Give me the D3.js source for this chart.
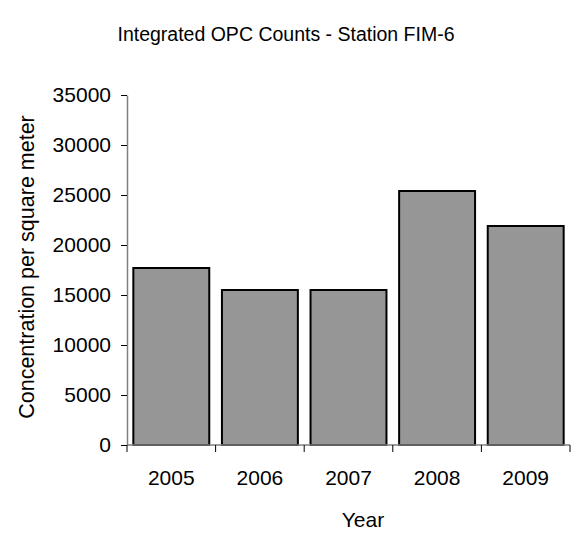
<!DOCTYPE html>
<html>
<head>
<meta charset="utf-8">
<script src="https://cdn.jsdelivr.net/npm/d3@7"></script>
<style>
  html, body { margin: 0; padding: 0; background: #fff; }
  text { font-family: "Liberation Sans", Arial, sans-serif; fill: #000; }
</style>
</head>
<body>
<svg id="chart" width="571" height="534"></svg>
<script>
const years = ["2005", "2006", "2007", "2008", "2009"];
const concentration = [17700, 15500, 15500, 25400, 21900];
const yTicks = [0, 5000, 10000, 15000, 20000, 25000, 30000, 35000];
const titleText = "Integrated OPC Counts - Station FIM-6";
const xTitle = "Year";
const yTitle = "Concentration per square meter";

(function () {
const svg = d3.select("#chart");
const mLeft = 127, mRight = 570, mTop = 95, mBottom = 445;
const fs = "21px";

const x = d3.scaleBand().domain(years).range([mLeft, mRight]).paddingInner(0.143).paddingOuter(0.0715);
const y = d3.scaleLinear().domain([0, 35000]).range([mBottom, mTop]);

// bars
svg.append("g").selectAll("rect").data(years).join("rect")
  .attr("x", d => x(d))
  .attr("y", (d, i) => y(concentration[i]))
  .attr("width", x.bandwidth())
  .attr("height", (d, i) => y(0) - y(concentration[i]))
  .attr("fill", "#969696")
  .attr("stroke", "#000")
  .attr("stroke-width", 2);

// y axis
const yAxis = svg.append("g").attr("transform", `translate(${mLeft},0)`)
  .call(d3.axisLeft(y).tickValues(yTicks).tickSize(6).tickSizeOuter(0).tickPadding(10).tickFormat(d3.format("d")));
yAxis.select(".domain").attr("stroke", "#808080").attr("stroke-width", 1.5);
yAxis.selectAll(".tick line").attr("stroke", "#000");
yAxis.selectAll("text").style("font-size", fs).style("font-family", "'Liberation Sans', Arial, sans-serif");

// x axis
const xBound = d3.scaleLinear().domain([0, years.length]).range([mLeft, mRight]);
const xAxisG = svg.append("g");
xAxisG.append("line").attr("x1", mLeft).attr("x2", mRight).attr("y1", mBottom).attr("y2", mBottom)
  .attr("stroke", "#808080").attr("stroke-width", 1.5);
xAxisG.selectAll("line.tk").data(d3.range(years.length + 1)).join("line")
  .attr("class", "tk")
  .attr("x1", d => xBound(d)).attr("x2", d => xBound(d))
  .attr("y1", mBottom).attr("y2", mBottom + 7)
  .attr("stroke", "#000");
xAxisG.selectAll("text").data(years).join("text")
  .attr("x", d => x(d) + x.bandwidth() / 2)
  .attr("y", 485)
  .attr("text-anchor", "middle")
  .style("font-size", fs)
  .text(d => d);

// titles
svg.append("text").attr("x", 286).attr("y", 41).attr("text-anchor", "middle")
  .style("font-size", "19.5px").text(titleText);
svg.append("text").attr("x", 363).attr("y", 527).attr("text-anchor", "middle")
  .style("font-size", fs).text(xTitle);
svg.append("text").attr("transform", "translate(34,267) rotate(-90)").attr("text-anchor", "middle")
  .style("font-size", "21.5px").text(yTitle);
})();
</script>
</body>
</html>
